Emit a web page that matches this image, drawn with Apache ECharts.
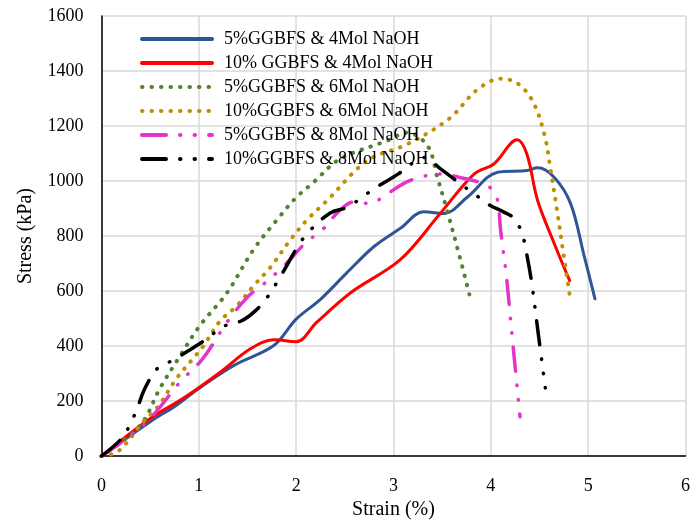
<!DOCTYPE html>
<html>
<head>
<meta charset="utf-8">
<script src="https://cdn.jsdelivr.net/npm/echarts@6/dist/echarts.min.js"></script>
<style>
  html, body { margin: 0; padding: 0; background: #fff; }
  #main { width: 693px; height: 525px; }
</style>
</head>
<body>
<div id="main"></div>
<script>
// values (strain %, stress kPa)
const seriesNames = [
  '5%GGBFS & 4Mol NaOH',
  '10% GGBFS & 4Mol NaOH',
  '5%GGBFS & 6Mol NaOH',
  '10%GGBFS & 6Mol NaOH',
  '5%GGBFS & 8Mol NaOH',
  '10%GGBFS & 8Mol NaOH'
]

const strain5g4m = [0, 0.5, 0.77, 1.0, 1.36, 1.77, 2.0, 2.25, 2.52, 2.8, 3.07, 3.31, 3.52, 3.76, 4.07, 4.37, 4.48, 4.65, 4.82, 4.96, 5.07]
const stress5g4m = [0, 125, 185, 246, 330, 402, 498, 570, 666, 762, 828, 888, 882, 942, 1032, 1038, 1048, 1014, 918, 726, 572]

const strain10g4m = [0, 0.5, 0.84, 1.22, 1.53, 1.77, 2.0, 2.21, 2.56, 3.07, 3.48, 3.83, 4.03, 4.27, 4.37, 4.48, 4.65, 4.81]
const stress10g4m = [0, 137, 210, 305, 390, 423, 416, 486, 594, 714, 882, 1026, 1062, 1150, 1098, 930, 774, 638]

const strain5g6m = [0, 0.4, 0.6, 0.81, 1.01, 1.29, 1.56, 1.8, 2.0, 2.18, 2.45, 2.93, 3.14, 3.35, 3.45, 3.55, 3.67, 3.78]
const stress5g6m = [0, 113, 246, 366, 474, 594, 750, 858, 940, 996, 1080, 1146, 1176, 1128, 1014, 894, 738, 588]

const strain10g6m = [0, 0.17, 0.43, 0.58, 0.77, 0.94, 1.05, 1.22, 1.39, 1.56, 1.73, 1.94, 2.11, 2.32, 2.73, 3.14, 3.57, 3.86, 4.1, 4.27, 4.43, 4.55, 4.61, 4.68, 4.74, 4.81]
const stress10g6m = [0, 17, 125, 180, 282, 354, 402, 492, 546, 618, 684, 786, 858, 930, 1074, 1134, 1226, 1332, 1372, 1356, 1290, 1170, 1050, 894, 750, 585]

const strain5g8m = [0, 0.24, 0.5, 0.81, 1.04, 1.3, 1.51, 1.66, 1.87, 2.11, 2.25, 2.45, 2.59, 2.76, 2.92, 3.17, 3.5, 3.67, 3.96, 4.06, 4.1, 4.16, 4.22, 4.3]
const stress5g8m = [0, 59, 137, 270, 354, 492, 582, 624, 690, 780, 816, 894, 924, 918, 950, 1002, 1026, 1014, 984, 942, 822, 654, 432, 143]

const strain10g8m = [0, 0.21, 0.3, 0.37, 0.43, 0.52, 0.58, 0.74, 0.88, 1.03, 1.27, 1.44, 1.58, 1.7, 1.85, 2.02, 2.13, 2.35, 2.52, 2.66, 2.8, 3.05, 3.19, 3.33, 3.47, 3.71, 3.85, 3.99, 4.13, 4.24, 4.32, 4.36, 4.42, 4.48, 4.56]
const stress10g8m = [0, 65, 120, 176, 234, 294, 320, 350, 380, 414, 474, 492, 528, 576, 660, 764, 816, 884, 904, 936, 972, 1026, 1064, 1086, 1048, 984, 948, 912, 888, 864, 810, 750, 630, 465, 248]

const font = '"Liberation Serif", "Times New Roman", serif'

function pairs (xs, ys) {
  return xs.map((x, i) => [x, ys[i]])
}

const dotted = [0.5, 9]
const dashDotDot = [24, 14, 0.5, 14, 0.5, 14]

function makeSeries (name, xs, ys, color, type, width) {
  return {
    name: name,
    type: 'line',
    smooth: 0.35,
    symbol: 'none',
    data: pairs(xs, ys),
    lineStyle: {
      color: color,
      width: width,
      type: type,
      cap: 'round',
      join: 'round'
    },
    itemStyle: { color: color }
  }
}

const chart = echarts.init(document.getElementById('main'))

const option = {
  animation: false,
  backgroundColor: '#fff',
  grid: {
    left: 101.5,
    right: 7.5,
    top: 16,
    bottom: 63.5
  },
  legend: {
    orient: 'vertical',
    left: 135,
    top: 24,
    itemWidth: 70,
    itemHeight: 14,
    itemGap: 4,
    itemStyle: { opacity: 0 },
    lineStyle: { width: 4 },
    textStyle: {
      fontFamily: font,
      fontSize: 18,
      color: '#000',
      lineHeight: 20,
      padding: [0, 0, 0, 7]
    },
    data: seriesNames
  },
  xAxis: {
    type: 'value',
    min: 0,
    max: 6,
    interval: 1,
    name: 'Strain (%)',
    nameLocation: 'middle',
    nameGap: 38,
    nameTextStyle: { fontFamily: font, fontSize: 20, color: '#000' },
    axisLine: { show: true, onZero: false, lineStyle: { color: '#000', width: 1.5 } },
    axisTick: { show: false },
    axisLabel: { fontFamily: font, fontSize: 18, color: '#000', margin: 21 },
    splitLine: { show: true, lineStyle: { color: '#d9d9d9', width: 1.5 } }
  },
  yAxis: {
    type: 'value',
    min: 0,
    max: 1600,
    interval: 200,
    name: 'Stress (kPa)',
    nameLocation: 'middle',
    nameGap: 66,
    nameTextStyle: { fontFamily: font, fontSize: 20, color: '#000' },
    axisLine: { show: true, lineStyle: { color: '#000', width: 1.5 } },
    axisTick: { show: false },
    axisLabel: {
      fontFamily: font,
      fontSize: 18,
      color: '#000',
      margin: 18,
      formatter: v => String(v)
    },
    splitLine: { show: true, lineStyle: { color: '#d9d9d9', width: 1.5 } }
  },
  series: [
    makeSeries(seriesNames[0], strain5g4m, stress5g4m, '#2F5597', 'solid', 3),
    makeSeries(seriesNames[1], strain10g4m, stress10g4m, '#FF0000', 'solid', 3),
    makeSeries(seriesNames[2], strain5g6m, stress5g6m, '#548235', dotted, 4),
    makeSeries(seriesNames[3], strain10g6m, stress10g6m, '#BF9000', dotted, 4),
    makeSeries(seriesNames[4], strain5g8m, stress5g8m, '#E236C8', dashDotDot, 3.5),
    makeSeries(seriesNames[5], strain10g8m, stress10g8m, '#000000', dashDotDot, 3.5)
  ]
}

chart.setOption(option)
</script>
</body>
</html>
